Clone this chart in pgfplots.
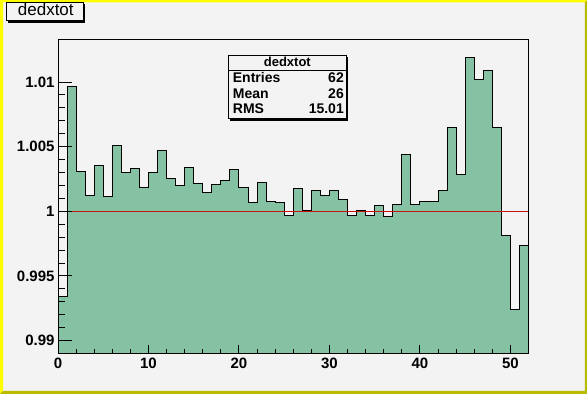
\documentclass[border=0pt]{standalone}
\usepackage{fontspec}
\setmainfont{Liberation Sans}
\usepackage{pgfplots}
\pgfplotsset{compat=1.18}
\definecolor{bg}{RGB}{243,243,243}
\definecolor{histfill}{RGB}{133,194,163}
\definecolor{bordery}{RGB}{255,255,0}
\definecolor{bordero}{RGB}{186,186,0}
\definecolor{refline}{RGB}{200,20,20}
\pgfplotsset{
  rootaxis/.style={
    at={(58pt,40pt)}, anchor=south west, scale only axis,
    width=470.5pt, height=314.5pt,
    xmin=0, xmax=52, ymin=0.988964, ymax=1.01329,
    tick align=inside, tick pos=left,
    axis line style={line width=1pt, black},
    tick style={line width=1pt, black},
    tick label style={font=\fontsize{15}{15}\selectfont\bfseries},
    /pgf/number format/assume math mode=true,
  }
}
\begin{document}
\begin{tikzpicture}[x=1pt,y=1pt]
\useasboundingbox (0,0) rectangle (587,394);
\fill[bg] (0,0) rectangle (587,394);
\fill[bordery] (0,0) -- (3,3) -- (3,391.7) -- (584.8,391.7) -- (587,394) -- (0,394) -- cycle;
\fill[bordero] (0,0) -- (587,0) -- (587,394) -- (584.8,391.7) -- (584.8,3) -- (3,3) -- cycle;

% title box
\fill[black] (7.5,371.3) rectangle (85,389.5);
\filldraw[fill=bg, draw=black, line width=1pt] (6,373) rectangle (83.5,391);
\node[anchor=base, inner sep=0, font=\fontsize{17}{17}\selectfont] at (45.8,378) {dedxtot};

\begin{axis}[rootaxis, axis on top,
  xtick={0,10,20,30,40,50}, minor x tick num=4, ytick=\empty,
  major tick length=9.3pt, minor tick length=5pt]
\addplot[const plot, fill=histfill, draw=black, line width=1pt] coordinates {
(0,0.988964)
(0,0.99345) (1,1.00967) (2,1.00309) (3,1.00124) (4,1.00356) (5,1.00116)
(6,1.00510) (7,1.00302) (8,1.00333) (9,1.00186) (10,1.00302) (11,1.00472)
(12,1.00250) (13,1.00201) (14,1.00340) (15,1.00217) (16,1.00147) (17,1.00209)
(18,1.00240) (19,1.00325) (20,1.00186) (21,1.00070) (22,1.00224) (23,1.00077)
(24,1.00070) (25,0.99970) (26,1.00178) (27,1.00008) (28,1.00162) (29,1.00124)
(30,1.00162) (31,1.00093) (32,0.99971) (33,1.00008) (34,0.99971) (35,1.00046)
(36,0.99961) (37,1.00056) (38,1.00441) (39,1.00056) (40,1.00077) (41,1.00077)
(42,1.00162) (43,1.00650) (44,1.00286) (45,1.01191) (46,1.01023) (47,1.01090)
(48,1.00650) (49,0.99814) (50,0.99244) (51,0.99737)
(52,0.99737) (52,0.988964)
};
\addplot[refline, line width=1pt] coordinates {(0,1) (52,1)};
\end{axis}

\begin{axis}[rootaxis,
  xtick=\empty, ytick={0.99,0.995,1,1.005,1.01},
  yticklabels={0.99,0.995,1,1.005,1.01}, minor y tick num=4,
  major tick length=14pt, minor tick length=7pt]
\end{axis}

% stats box
\fill[black] (230.3,273.3) rectangle (348.3,336.6);
\filldraw[fill=bg, draw=black, line width=1pt] (228.3,275) rectangle (346.7,338.3);
\draw[line width=1pt] (228.3,323.3) -- (346.7,323.3);
\node[anchor=base, inner sep=0, font=\fontsize{13}{13}\selectfont\bfseries] at (287.3,327.3) {dedxtot};
\begin{scope}[every node/.style={inner sep=0, font=\fontsize{14}{14}\selectfont\bfseries}]
\node[anchor=base west] at (232.7,311.3) {Entries};
\node[anchor=base east] at (344,311.3) {62};
\node[anchor=base west] at (232.7,295.7) {Mean};
\node[anchor=base east] at (344,295.7) {26};
\node[anchor=base west] at (232.7,280) {RMS};
\node[anchor=base east] at (344,280) {15.01};
\end{scope}
\end{tikzpicture}
\end{document}
